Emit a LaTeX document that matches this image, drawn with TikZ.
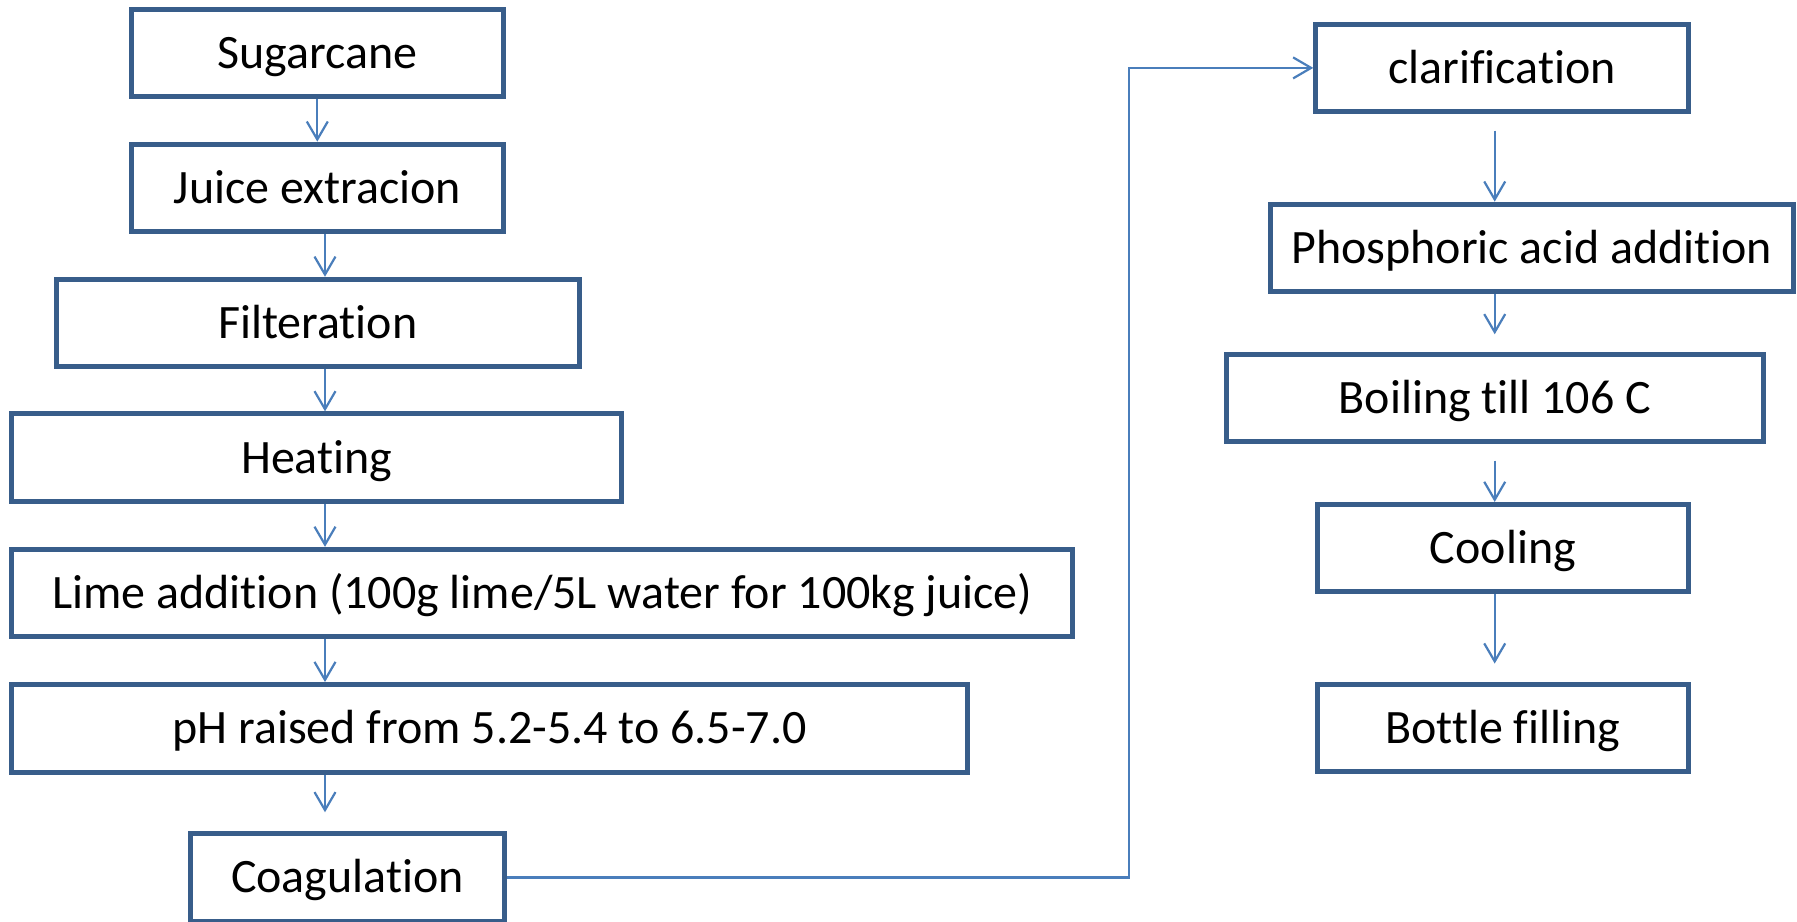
\documentclass[tikz,border=0pt]{standalone}
\usepackage{fontspec}
\setmainfont{Carlito}[Ligatures=NoCommon]
\usetikzlibrary{positioning, arrows.meta}
\definecolor{boxblue}{HTML}{385D8A}
\definecolor{flowblue}{HTML}{4A7EBB}

\begin{document}
\begin{tikzpicture}[x=0.02cm, y=-0.02cm,
    stepbox/.style={draw=boxblue, line width=0.1cm, fill=white, inner sep=0pt,
                    minimum height=1.75cm, font=\fontsize{27.3}{32}\selectfont,
                    text height=17.6pt, text depth=0pt},
    flow/.style={draw=flowblue, line width=0.044cm,
                 -{Straight Barb[length=0.36cm, width=0.42cm]}}]
    \clip (0,0) rectangle (1797,922);
    \fill[white] (0,0) rectangle (1797,922);

    % left column
    \node[stepbox, minimum width=7.45cm] (sugar) at (317.3,52.9) {Sugarcane};
    \node[stepbox, minimum width=7.45cm] (juice) at (317.3,187.9) {Juice extracion};
    \node[stepbox, minimum width=10.46cm] (filter) at (317.7,323) {Filteration};
    \node[stepbox, minimum width=12.2cm] (heating) at (316.7,457.6) {Heating};
    \node[stepbox, minimum width=21.22cm] (lime) at (542.3,593.1)
          {Lime addition (100g lime/5L water for 100kg juice)};
    \node[stepbox, minimum width=19.12cm] (ph) at (489.7,728.3)
          {pH raised from 5.2-5.4 to 6.5-7.0};
    \node[stepbox, minimum width=6.27cm] (coag) at (347.5,877.5) {Coagulation};

    % right column
    \node[stepbox, minimum width=7.45cm] (clar) at (1502,67.9) {clarification};
    \node[stepbox, minimum width=10.45cm] (phos) at (1531.8,247.9) {Phosphoric acid addition};
    \node[stepbox, minimum width=10.76cm] (boil) at (1495,398) {Boiling till 106 C};
    \node[stepbox, minimum width=7.43cm] (cool) at (1502.9,548.2) {Cooling};
    \node[stepbox, minimum width=7.43cm] (bottle) at (1502.9,727.8) {Bottle filling};

    \coordinate (lcol) at (325,0);
    \coordinate (rcol) at (1494.7,0);
    \coordinate (turn) at (1129,0);

    \draw[flow] (sugar) -- (juice);
    \draw[flow] (juice.south -| lcol) -- (filter.north -| lcol);
    \draw[flow] (filter.south -| lcol) -- (heating.north -| lcol);
    \draw[flow] (heating.south -| lcol) -- (lime.north -| lcol);
    \draw[flow] (lime.south -| lcol) -- (ph.north -| lcol);
    \draw[flow, shorten >=0.38cm] (ph.south -| lcol) -- (coag.north -| lcol);
    \draw[flow] (coag.east) -| (turn |- clar.west) -- (clar.west);

    \draw[flow, shorten <=0.33cm] (clar.south -| rcol) -- (phos.north -| rcol);
    \draw[flow, shorten >=0.35cm] (phos.south -| rcol) -- (boil.north -| rcol);
    \draw[flow, shorten <=0.33cm] (boil.south -| rcol) -- (cool.north -| rcol);
    \draw[flow, shorten >=0.36cm] (cool.south -| rcol) -- (bottle.north -| rcol);
\end{tikzpicture}
\end{document}
